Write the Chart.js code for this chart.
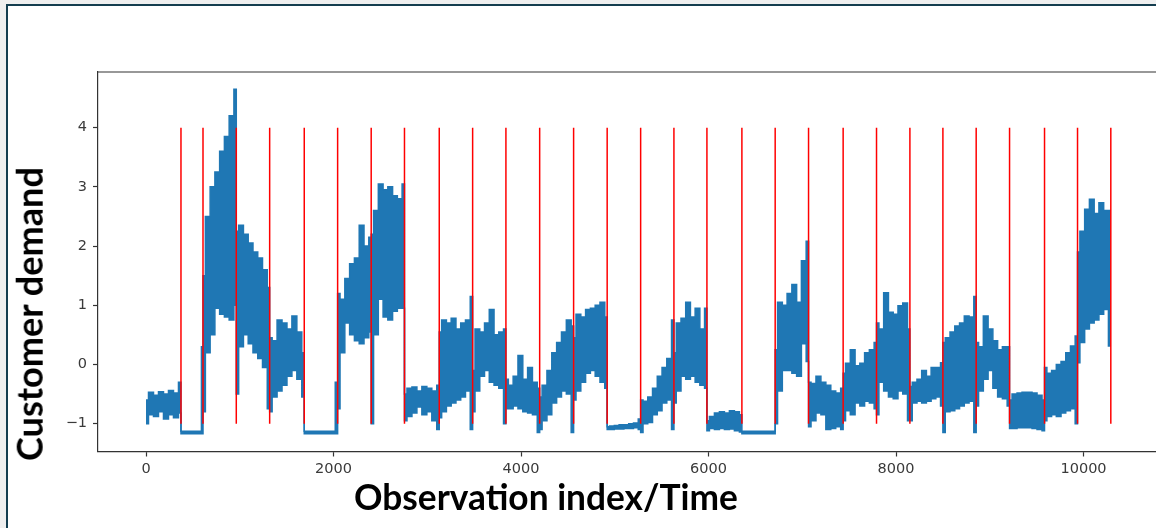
<!DOCTYPE html>
<html>
<head>
<meta charset="utf-8">
<script src="https://cdn.jsdelivr.net/npm/chart.js@4.4.1/dist/chart.umd.min.js"></script>
<style>
html,body{margin:0;padding:0;width:1156px;height:528px;overflow:hidden;background:#efefef;}
#frame{position:absolute;left:6px;top:4px;width:1300px;height:700px;border-left:2px solid #143d4f;border-top:2px solid #143d4f;background:#ffffff;}
#wrap{position:absolute;left:0;top:0;width:1170px;height:528px;}
.title{position:absolute;left:0;top:0;font-family:Lato,'Open Sans',sans-serif;font-weight:700;color:#000;white-space:nowrap;line-height:1;}
</style>
</head>
<body>
<div id="frame"></div>
<div id="wrap"><canvas id="c" width="1170" height="528"></canvas></div>
<div id="ytitle" class="title">Customer demand</div>
<div id="xtitle" class="title">Observation index/Time</div>
<script>
// ---------------- data ----------------
const seriesStart = 0;
const changePoints = [373, 608, 963, 1319, 1688, 2044, 2402, 2757, 3128, 3484, 3839, 4199, 4561, 4919, 5276, 5631, 5983, 6356, 6711, 7067, 7436, 7792, 8148, 8500, 8855, 9211, 9584, 9936, 10291];
const changeLineBottom = -1;
const changeLineTop = 4;
const xTickValues = [0, 2000, 4000, 6000, 8000, 10000];
const yTickValues = [-1, 0, 1, 2, 3, 4];

// upper edge of the demand trace inside each segment (8 readings per segment)
const upperEnvelope = [
  [-0.60, -0.47, -0.52, -0.46, -0.50, -0.44, -0.48, -0.30],
  [-1.13, -1.13, -1.13, -1.13, -1.13, -1.13, -1.13, 0.30],
  [1.50, 2.50, 3.00, 3.25, 3.60, 3.85, 4.20, 4.65],
  [2.25, 2.35, 2.20, 2.05, 1.90, 1.80, 1.60, 1.30],
  [0.45, 0.40, 0.75, 0.70, 0.60, 0.82, 0.55, 0.20],
  [-1.13, -1.13, -1.13, -1.13, -1.13, -1.13, -1.13, -0.30],
  [1.20, 1.10, 1.45, 1.70, 1.80, 2.35, 2.00, 2.15],
  [2.20, 2.60, 3.05, 2.95, 3.00, 2.85, 2.80, 3.05],
  [-0.50, -0.40, -0.38, -0.45, -0.37, -0.40, -0.45, -0.35],
  [0.55, 0.75, 0.70, 0.78, 0.60, 0.70, 0.75, 1.15],
  [-0.10, 0.60, 0.55, 0.70, 0.93, 0.50, 0.55, 0.60],
  [-0.25, -0.35, -0.20, 0.15, -0.25, -0.05, -0.30, -0.40],
  [-0.55, -0.35, -0.10, 0.20, 0.37, 0.55, 0.75, 0.65],
  [0.45, 0.85, 0.80, 0.93, 0.95, 1.00, 1.05, 0.80],
  [-1.05, -1.04, -1.03, -1.02, -1.02, -1.00, -0.99, -0.92],
  [-0.60, -0.62, -0.55, -0.40, -0.20, -0.05, 0.10, 0.75],
  [0.20, 0.70, 0.78, 1.05, 0.80, 0.95, 0.60, 0.95],
  [-0.95, -0.88, -0.82, -0.80, -0.82, -0.78, -0.80, -0.85],
  [-1.13, -1.13, -1.13, -1.13, -1.13, -1.13, -1.13, -1.13],
  [0.25, 1.05, 1.00, 1.20, 1.35, 1.05, 1.75, 2.08],
  [-0.30, -0.32, -0.20, -0.30, -0.35, -0.45, -0.48, -0.40],
  [-0.15, 0.02, 0.25, -0.02, 0.02, 0.20, 0.25, 0.37],
  [0.70, 0.60, 1.21, 0.88, 0.85, 0.99, 1.04, 0.60],
  [-0.37, -0.30, -0.25, -0.10, -0.20, -0.05, -0.05, 0.03],
  [0.37, 0.45, 0.55, 0.65, 0.70, 0.82, 0.80, 1.15],
  [0.37, 0.30, 0.82, 0.60, 0.40, 0.25, 0.30, 0.30],
  [-0.60, -0.50, -0.48, -0.47, -0.47, -0.48, -0.52, -0.60],
  [-0.05, -0.15, -0.10, 0.00, 0.05, 0.20, 0.31, 0.48],
  [1.90, 2.25, 2.62, 2.79, 2.55, 2.73, 2.60, 2.60]
];

// lower edge of the demand trace inside each segment (8 readings per segment)
const lowerEnvelope = [
  [-1.00, -0.85, -0.88, -0.80, -0.92, -0.85, -0.90, -0.82],
  [-1.17, -1.17, -1.17, -1.17, -1.17, -1.17, -1.17, -1.17],
  [-0.80, 0.20, 0.50, 0.95, 0.85, 0.80, 0.75, 1.00],
  [-0.50, 0.30, 0.50, 0.35, 0.20, 0.10, -0.05, -0.75],
  [-0.80, -0.55, -0.45, -0.35, -0.20, -0.10, -0.25, -0.55],
  [-1.17, -1.17, -1.17, -1.17, -1.17, -1.17, -1.17, -1.17],
  [-0.75, 0.20, 0.70, 0.50, 0.40, 0.35, 0.45, 0.55],
  [-1.00, 0.50, 1.10, 0.80, 0.75, 0.90, 0.95, 0.95],
  [-0.95, -0.88, -0.82, -0.72, -0.85, -0.80, -0.95, -1.10],
  [-0.90, -0.80, -0.70, -0.65, -0.60, -0.55, -0.45, -1.10],
  [-0.80, -0.45, -0.20, -0.10, -0.30, -0.35, -0.40, -1.00],
  [-0.75, -0.75, -0.70, -0.75, -0.80, -0.82, -0.85, -1.15],
  [-1.10, -0.95, -0.85, -0.65, -0.55, -0.45, -0.50, -1.15],
  [-0.60, -0.45, -0.30, -0.15, -0.10, -0.20, -0.30, -0.40],
  [-1.10, -1.10, -1.09, -1.09, -1.08, -1.08, -1.07, -1.10],
  [-1.15, -1.00, -0.98, -0.85, -0.78, -0.65, -0.60, -1.10],
  [-0.65, -0.45, -0.20, -0.25, -0.20, -0.30, -0.35, -0.40],
  [-1.12, -1.08, -1.10, -1.08, -1.10, -1.09, -1.12, -1.14],
  [-1.17, -1.17, -1.17, -1.17, -1.17, -1.17, -1.17, -1.17],
  [-1.00, -0.45, -0.10, -0.10, -0.15, -0.20, 0.35, 0.05],
  [-1.05, -0.95, -0.82, -0.85, -1.10, -1.08, -1.05, -1.10],
  [-0.95, -0.78, -0.85, -0.65, -0.70, -0.62, -0.65, -0.75],
  [-0.85, -0.30, -0.45, -0.55, -0.58, -0.45, -0.50, -0.95],
  [-0.95, -0.65, -0.62, -0.65, -0.62, -0.58, -0.55, -0.70],
  [-1.15, -0.80, -0.78, -0.75, -0.70, -0.65, -0.62, -1.15],
  [-0.70, -0.45, -0.25, -0.10, -0.40, -0.55, -0.58, -0.70],
  [-1.08, -1.08, -1.07, -1.07, -1.07, -1.08, -1.10, -1.12],
  [-0.95, -0.88, -0.85, -0.88, -0.82, -0.78, -0.75, -1.00],
  [0.03, 0.37, 0.60, 0.70, 0.75, 0.85, 0.93, 0.31]
];

// ---------------- build datasets ----------------
const segmentEdges = [seriesStart].concat(changePoints);
const upperPts = [], lowerPts = [];
for (let k = 0; k < upperEnvelope.length; k++) {
  const a = segmentEdges[k], b = segmentEdges[k + 1];
  const n = upperEnvelope[k].length;
  for (let i = 0; i < n; i++) {
    const x = a + i * (b - a) / (n - 1);
    upperPts.push({x: x, y: upperEnvelope[k][i]});
    lowerPts.push({x: x, y: lowerEnvelope[k][i]});
  }
}
const changeLinePts = [];
changePoints.forEach(function (cp) {
  changeLinePts.push({x: cp, y: changeLineBottom});
  changeLinePts.push({x: cp, y: changeLineTop});
  changeLinePts.push({x: cp, y: null});
});

const BLUE = '#1f77b4';
const AXIS = '#333333';

const framePlugin = {
  id: 'frameBox',
  afterDraw(chart) {
    const {ctx, chartArea} = chart;
    ctx.save();
    ctx.strokeStyle = AXIS;
    ctx.lineWidth = 1.2;
    ctx.beginPath();
    ctx.moveTo(chartArea.left, chartArea.top);
    ctx.lineTo(chartArea.right, chartArea.top);
    ctx.lineTo(chartArea.right, chartArea.bottom);
    ctx.stroke();
    ctx.restore();
  }
};

new Chart(document.getElementById('c'), {
  type: 'line',
  data: {
    datasets: [
      {
        label: 'change points',
        data: changeLinePts,
        borderColor: '#ff0000',
        borderWidth: 1.5,
        pointRadius: 0,
        fill: false,
        spanGaps: false,
        order: 0
      },
      {
        label: 'demand upper',
        data: upperPts,
        borderColor: BLUE,
        backgroundColor: BLUE,
        borderWidth: 1.5,
        pointRadius: 0,
        stepped: 'middle',
        fill: '+1',
        order: 1
      },
      {
        label: 'demand lower',
        data: lowerPts,
        borderColor: BLUE,
        borderWidth: 1.5,
        pointRadius: 0,
        stepped: 'middle',
        fill: false,
        order: 2
      }
    ]
  },
  options: {
    responsive: false,
    animation: false,
    devicePixelRatio: 1,
    layout: {padding: {left: 38, top: 72, right: 11, bottom: 36.5}},
    elements: {line: {tension: 0}},
    plugins: {legend: {display: false}, tooltip: {enabled: false}},
    scales: {
      x: {
        type: 'linear',
        min: -512,
        max: 10805,
        afterBuildTicks: function (s) { s.ticks = xTickValues.map(function (v) { return {value: v}; }); },
        afterFit: function (s) { s.height = 40; },
        ticks: {
          font: {family: 'DejaVu Sans', size: 14.5},
          color: '#3a3a3a',
          padding: 4,
          maxRotation: 0,
          autoSkip: false,
          callback: function (v) { return String(v); }
        },
        grid: {drawOnChartArea: false, drawTicks: true, tickLength: 5, tickColor: AXIS, tickWidth: 1.2},
        border: {display: true, color: AXIS, width: 1.2}
      },
      y: {
        type: 'linear',
        min: -1.47,
        max: 4.94,
        afterBuildTicks: function (s) { s.ticks = yTickValues.map(function (v) { return {value: v}; }); },
        afterFit: function (s) { s.width = 60; },
        ticks: {
          font: {family: 'DejaVu Sans', size: 14.5},
          color: '#3a3a3a',
          padding: 6,
          autoSkip: false,
          callback: function (v) { return v < 0 ? '\u2212' + Math.abs(v) : String(v); }
        },
        grid: {drawOnChartArea: false, drawTicks: true, tickLength: 5, tickColor: AXIS, tickWidth: 1.2},
        border: {display: true, color: AXIS, width: 1.2}
      }
    }
  },
  plugins: [framePlugin]
});

// ---------------- axis titles (HTML text) ----------------
function fitTitle(el, targetWidth) {
  el.style.fontSize = '32px';
  const marker = document.createElement('span');
  marker.style.cssText = 'display:inline-block;width:0;height:0;vertical-align:baseline;';
  el.appendChild(marker);
  const w = el.getBoundingClientRect().width;
  el.style.fontSize = (32 * targetWidth / w) + 'px';
  const r = el.getBoundingClientRect();
  const m = marker.getBoundingClientRect();
  return m.top - r.top;
}
const xt = document.getElementById('xtitle');
const xb = fitTitle(xt, 384);
xt.style.left = '354px';
xt.style.top = (509.5 - xb) + 'px';

const yt = document.getElementById('ytitle');
const yb = fitTitle(yt, 294);
yt.style.transformOrigin = '0 0';
yt.style.transform = 'translate(' + (42.7 - yb) + 'px, 461px) rotate(-90deg)';
</script>
</body>
</html>
